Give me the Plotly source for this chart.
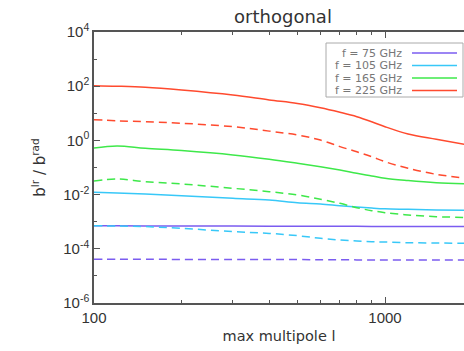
import numpy as np
import plotly.graph_objects as go

ell = [100, 120, 150, 200, 300, 400, 500, 600, 700, 800, 900, 1000, 1200, 1500, 1870]

red_solid = [105, 100, 91, 72, 47, 31, 23, 16, 10.9, 7.5, 4.9, 3.2, 1.73, 1.1, 0.72]
red_dash = [5.8, 5.3, 4.9, 4.3, 3.2, 2.2, 1.58, 1.03, 0.59, 0.38, 0.25, 0.164, 0.093, 0.056, 0.041]
green_solid = [0.52, 0.62, 0.51, 0.42, 0.29, 0.20, 0.143, 0.107, 0.081, 0.061, 0.049, 0.040, 0.033, 0.0275, 0.025]
green_dash = [0.0318, 0.0377, 0.030, 0.0246, 0.0171, 0.0128, 0.0097, 0.0067, 0.00476, 0.0033, 0.00255, 0.00216, 0.00177, 0.00153, 0.00144]
cyan_solid = [0.0121, 0.0114, 0.0105, 0.0091, 0.0073, 0.0063, 0.0050, 0.0045, 0.0039, 0.0035, 0.0032, 0.0030, 0.00286, 0.0027, 0.00262]
cyan_dash = [7.1e-4, 6.9e-4, 6.6e-4, 5.7e-4, 4.3e-4, 3.7e-4, 3.05e-4, 2.43e-4, 2.11e-4, 1.94e-4, 1.83e-4, 1.78e-4, 1.68e-4, 1.64e-4, 1.59e-4]
purple_solid = [7.1e-4, 7.05e-4, 7.0e-4, 6.95e-4, 6.9e-4, 6.85e-4, 6.8e-4, 6.8e-4, 6.75e-4, 6.75e-4, 6.7e-4, 6.7e-4, 6.65e-4, 6.6e-4, 6.6e-4]
purple_dash = [4.1e-5, 4.1e-5, 4.1e-5, 4.05e-5, 4.0e-5, 4.0e-5, 4.0e-5, 3.95e-5, 3.95e-5, 3.9e-5, 3.9e-5, 3.9e-5, 3.9e-5, 3.9e-5, 3.9e-5]

labels = ["f = 75 GHz", "f = 105 GHz", "f = 165 GHz", "f = 225 GHz"]
colors = ["#7b5cf0", "#38c8f8", "#3ee84a", "#ff4a2e"]
solid = [purple_solid, cyan_solid, green_solid, red_solid]
dashed = [purple_dash, cyan_dash, green_dash, red_dash]

ytick_major = [1e-6, 1e-4, 1e-2, 1, 1e2, 1e4]
ytick_text = ["10<sup>-6</sup>", "10<sup>-4</sup>", "10<sup>-2</sup>", "10<sup>0</sup>", "10<sup>2</sup>", "10<sup>4</sup>"]
ytick_minor = [1e-5, 1e-3, 1e-1, 1e1, 1e3]
xtick_major = [100, 1000]
xtick_text = ["100", "1000"]
xtick_minor = [200, 300, 400, 500, 600, 700, 800, 900]

font = "DejaVu Sans, sans-serif"
tickfont = "Liberation Sans, Arial, sans-serif"
fig = go.Figure()
for c, s, d in zip(colors, solid, dashed):
    fig.add_trace(go.Scatter(x=ell, y=d, mode="lines", line=dict(color=c, width=1.5, dash="8px,5px"),
                             showlegend=False, line_shape="spline"))
    fig.add_trace(go.Scatter(x=ell, y=s, mode="lines", line=dict(color=c, width=1.5),
                             showlegend=False, line_shape="spline"))

axcol = "#555555"
fig.update_layout(
    width=464, height=351,
    margin=dict(l=94, r=0, t=32, b=48),
    paper_bgcolor="white", plot_bgcolor="white",
    font=dict(family=font, color="#333333", size=14),
    title=dict(text="orthogonal", xref="container", x=283 / 464, y=1 - 17 / 351, yanchor="middle",
               xanchor="center", font=dict(size=18, color="#333333")),
    xaxis=dict(type="log", range=[2, np.log10(1868)], showgrid=False, zeroline=False,
               showline=True, linecolor=axcol, linewidth=1.5, mirror="ticks",
               ticks="inside", ticklen=6, tickcolor=axcol, tickvals=xtick_major, ticktext=xtick_text,
               minor=dict(tickvals=xtick_minor, ticks="inside", ticklen=3, tickcolor=axcol, showgrid=False),
               tickfont=dict(size=15, family=tickfont),
               title=dict(text="max multipole l", font=dict(size=14.5), standoff=6)),
    yaxis=dict(type="log", range=[-6, 4], showgrid=False, zeroline=False,
               showline=True, linecolor=axcol, linewidth=1.5,
               ticks="inside", ticklen=6, tickcolor=axcol, tickvals=ytick_major, ticktext=ytick_text,
               minor=dict(tickvals=ytick_minor, ticks="inside", ticklen=3, tickcolor=axcol, showgrid=False),
               tickfont=dict(size=15, family=tickfont),
               title=dict(text="b<sup>lr</sup> / b<sup>rad</sup>", font=dict(size=15), standoff=14)),
)

# legend box drawn at the upper right, sample lines to the right of the text
x0, x1 = (326 - 94) / 370, (463 - 94) / 370
ytop, ybot = 1 - (43 - 32) / 271, 1 - (97 - 32) / 271
fig.add_shape(type="rect", xref="paper", yref="paper", x0=x0, x1=x1, y0=ybot, y1=ytop,
              line=dict(color="#aaaaaa", width=1), fillcolor="white", layer="above")
for i, (lab, c) in enumerate(zip(labels, colors)):
    ypix = 53 + i * 12.5
    yp = 1 - (ypix - 32) / 271
    fig.add_shape(type="line", xref="paper", yref="paper", x0=(412 - 94) / 370, x1=(457 - 94) / 370,
                  y0=yp, y1=yp, line=dict(color=c, width=1.6), layer="above")
    fig.add_annotation(xref="paper", yref="paper", x=(404 - 94) / 370, y=yp, text=lab, showarrow=False,
                       xanchor="right", yanchor="middle", font=dict(size=11, color="#777777"))

fig.write_html("out.html")
